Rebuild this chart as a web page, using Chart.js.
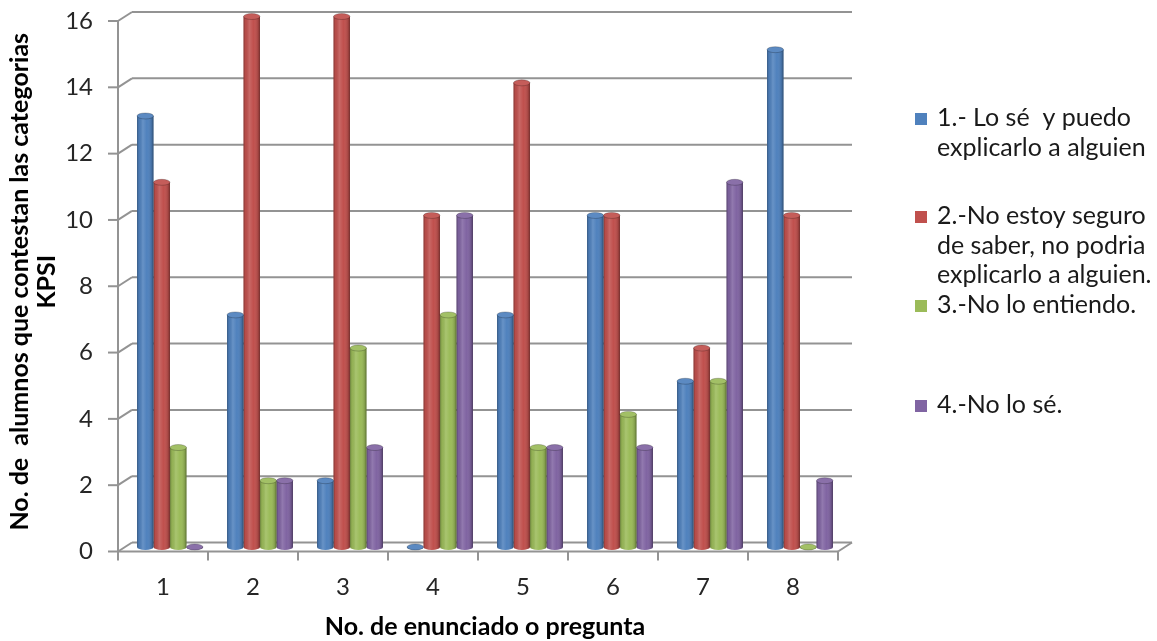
<!DOCTYPE html>
<html>
<head>
<meta charset="utf-8">
<script src="https://cdn.jsdelivr.net/npm/chart.js@4.4.1/dist/chart.umd.min.js"></script>
<style>
  html, body { margin: 0; padding: 0; background: #ffffff; }
  canvas { display: block; }
</style>
</head>
<body>
<canvas id="kpsi" width="1157" height="641"></canvas>
<script>
// Question numbers along the x axis
const QUESTIONS = ['1', '2', '3', '4', '5', '6', '7', '8'];

// Number of students per KPSI category, one array per category
const SERIES_1 = [13, 7, 2, 0, 7, 10, 5, 15];
const SERIES_2 = [11, 16, 16, 10, 14, 10, 6, 10];
const SERIES_3 = [3, 2, 6, 7, 3, 4, 5, 0];
const SERIES_4 = [0, 2, 3, 10, 3, 3, 11, 2];

// Legend text, already broken into lines
const SERIES_LABELS = [
  ['1.- Lo sé  y puedo', 'explicarlo a alguien'],
  ['2.-No estoy seguro', 'de saber, no podria', 'explicarlo a alguien.'],
  ['3.-No lo entiendo.'],
  ['4.-No lo sé.']
];
const SERIES_COLORS = ['#4F81BD', '#C0504D', '#9BBB59', '#8064A2'];

// Value axis range and step
const Y_MIN = 0;
const Y_MAX = 16;
const Y_STEP = 2;

const X_TITLE = 'No. de enunciado o pregunta';
const Y_TITLE = ['No. de  alumnos que contestan las categorias', 'KPSI'];

// Half of the perspective depth: the bars stand in the middle plane,
// the wall is DX/DY behind them and the axes DX/DY in front.
const DX = 7;
const DY = 4.5;
const FONT = 'Lato, "Open Sans", "DejaVu Sans", sans-serif';
const LINE_COLOR = '#939393';

function strokeLine(ctx, x1, y1, x2, y2) {
  ctx.beginPath();
  ctx.moveTo(x1, y1);
  ctx.lineTo(x2, y2);
  ctx.stroke();
}

// Back wall, side wall diagonals, floor and front axes
const frame3d = {
  id: 'frame3d',
  beforeDatasetsDraw(chart) {
    const { ctx, chartArea: a, scales: { x, y } } = chart;
    const fl = a.left - DX, bl = a.left + DX;
    const fr = a.right - DX, br = a.right + DX;
    ctx.save();
    ctx.strokeStyle = LINE_COLOR;
    ctx.lineWidth = 2;
    ctx.lineCap = 'butt';
    y.ticks.forEach(t => {
      const ym = y.getPixelForValue(t.value);
      strokeLine(ctx, bl, ym - DY, br, ym - DY);
      strokeLine(ctx, fl, ym + DY, bl, ym - DY);
      strokeLine(ctx, fl - 10, ym + DY, fl, ym + DY);
    });
    const y0 = y.getPixelForValue(Y_MIN);
    const yTop = y.getPixelForValue(Y_MAX);
    strokeLine(ctx, fl, yTop + DY, fl, y0 + DY);
    strokeLine(ctx, fl, y0 + DY, fr, y0 + DY);
    strokeLine(ctx, fr, y0 + DY, br, y0 - DY);
    const n = x.ticks.length;
    const cw = (a.right - a.left) / n;
    for (let i = 0; i <= n; i++) {
      const px = (i < n ? x.getPixelForValue(i) - cw / 2 : x.getPixelForValue(n - 1) + cw / 2) - DX;
      strokeLine(ctx, px, y0 + DY, px, y0 + DY + 9);
    }
    ctx.restore();
  }
};

// Round caps and side shading so each bar reads as a cylinder
const cylinders = {
  id: 'cylinders',
  afterDatasetsDraw(chart) {
    const { ctx } = chart;
    ctx.save();
    chart.data.datasets.forEach((ds, di) => {
      const meta = chart.getDatasetMeta(di);
      if (meta.hidden) return;
      const color = SERIES_COLORS[di];
      meta.data.forEach(bar => {
        const { x, y, base, width } = bar.getProps(['x', 'y', 'base', 'width'], true);
        const rx = width / 2;
        const ry = 3;
        const left = x - rx;
        const shade = ctx.createLinearGradient(left, 0, left + width, 0);
        shade.addColorStop(0, 'rgba(0,0,0,0.30)');
        shade.addColorStop(0.12, 'rgba(0,0,0,0.05)');
        shade.addColorStop(0.35, 'rgba(255,255,255,0.14)');
        shade.addColorStop(0.6, 'rgba(255,255,255,0.0)');
        shade.addColorStop(0.88, 'rgba(0,0,0,0.14)');
        shade.addColorStop(1, 'rgba(0,0,0,0.40)');

        // rounded bottom
        ctx.beginPath();
        ctx.ellipse(x, base, rx, ry, 0, 0, Math.PI);
        ctx.fillStyle = color;
        ctx.fill();
        ctx.fillStyle = shade;
        ctx.fill();

        // shaded body
        if (base - y > 0.5) {
          ctx.fillStyle = shade;
          ctx.fillRect(left, y, width, base - y);
        }

        // top cap
        ctx.beginPath();
        ctx.ellipse(x, y, rx, ry, 0, 0, Math.PI * 2);
        ctx.fillStyle = color;
        ctx.fill();
        ctx.fillStyle = 'rgba(255,255,255,0.08)';
        ctx.fill();
        ctx.lineWidth = 1;
        ctx.strokeStyle = 'rgba(0,0,0,0.22)';
        ctx.stroke();
      });
    });
    ctx.restore();
  }
};

// Legend on the right with wrapped entries
const LEGEND_X = 915;
const LEGEND_TEXT_X = 937;
const LEGEND_ROW_Y = [118, 216, 305, 405];
const LEGEND_LINE_H = 29.5;
const sideLegend = {
  id: 'sideLegend',
  afterDraw(chart) {
    const { ctx } = chart;
    ctx.save();
    ctx.font = '25px ' + FONT;
    ctx.textBaseline = 'middle';
    ctx.textAlign = 'left';
    chart.data.datasets.forEach((ds, i) => {
      const top = LEGEND_ROW_Y[i];
      ctx.fillStyle = SERIES_COLORS[i];
      ctx.fillRect(LEGEND_X, top - 5, 12, 12);
      ctx.fillStyle = '#1a1a1a';
      SERIES_LABELS[i].forEach((line, k) => {
        ctx.fillText(line, LEGEND_TEXT_X, top + k * LEGEND_LINE_H);
      });
    });
    ctx.restore();
  }
};

const seriesData = [SERIES_1, SERIES_2, SERIES_3, SERIES_4];

new Chart(document.getElementById('kpsi'), {
  type: 'bar',
  data: {
    labels: QUESTIONS,
    datasets: seriesData.map((values, i) => ({
      label: SERIES_LABELS[i].join(' '),
      data: values,
      backgroundColor: SERIES_COLORS[i],
      borderWidth: 0,
      categoryPercentage: 0.733,
      barPercentage: 1.0,
      clip: false
    }))
  },
  options: {
    responsive: false,
    animation: false,
    events: [],
    layout: { padding: { top: 16.5, right: 312, bottom: 0, left: 0 } },
    plugins: {
      legend: { display: false },
      tooltip: { enabled: false },
      title: { display: false }
    },
    scales: {
      x: {
        type: 'category',
        offset: true,
        grid: { display: false, drawTicks: false },
        border: { display: false },
        ticks: {
          color: '#262626',
          font: { family: FONT, size: 24 },
          padding: 26,
          labelOffset: -DX,
          maxRotation: 0
        },
        title: {
          display: true,
          text: X_TITLE,
          color: '#000000',
          font: { family: FONT, size: 25, weight: 'bold', lineHeight: 1.08 },
          padding: { top: 0, bottom: 0.5 }
        },
        afterFit(scale) {
          scale.height = 94;
          scale.paddingLeft = 0;
          scale.paddingRight = 0;
        }
      },
      y: {
        min: Y_MIN,
        max: Y_MAX,
        grid: { display: false, drawTicks: false },
        border: { display: false },
        ticks: {
          stepSize: Y_STEP,
          color: '#262626',
          font: { family: FONT, size: 24 },
          padding: 32,
          labelOffset: DY
        },
        title: {
          display: true,
          text: Y_TITLE,
          color: '#000000',
          font: { family: FONT, size: 25, weight: 'bold', lineHeight: 1.08 },
          padding: { top: 6.5, bottom: 0 }
        },
        afterFit(scale) {
          scale.width = 125;
          scale.paddingTop = 0;
          scale.paddingBottom = 0;
        }
      }
    }
  },
  plugins: [frame3d, cylinders, sideLegend]
});
</script>
</body>
</html>
